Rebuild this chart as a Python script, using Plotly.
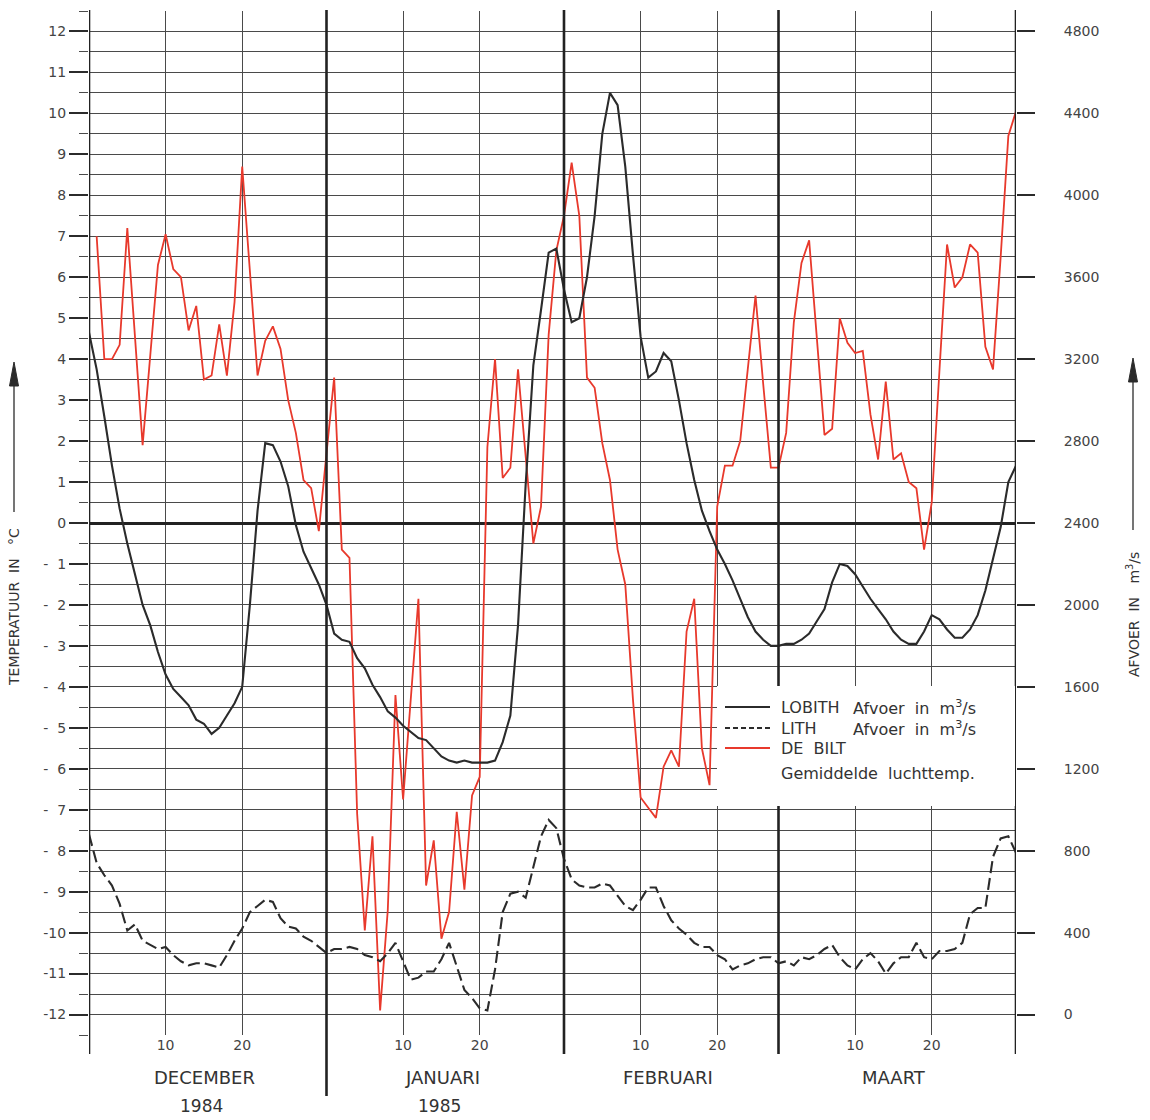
import plotly.graph_objects as go

# ---------------- data ----------------
month_names = ["DECEMBER", "JANUARI", "FEBRUARI", "MAART"]
month_years = ["1984", "1985", "", ""]
month_days = [31, 31, 28, 31]
day_labels = [10, 20]

# LOBITH discharge (m3/s), one value per day boundary: 30 Nov .. 31 Mar (122 values)
lobith_q = [
    3330, 3150, 2920, 2680, 2470, 2300, 2150, 2000, 1900, 1770,
    1660, 1590, 1550, 1510, 1440, 1420, 1370, 1400, 1460, 1520,
    1600, 2000, 2460, 2790, 2780, 2700, 2580, 2390, 2260, 2180,
    2100, 2000, 1860, 1830, 1820, 1740, 1690, 1610, 1550, 1480,
    1450, 1410, 1380, 1350, 1340, 1300, 1260, 1240, 1230, 1240,
    1230, 1230, 1230, 1240, 1330, 1460, 1900, 2590, 3170, 3440,
    3720, 3740, 3540, 3380, 3400, 3600, 3900, 4300, 4500, 4440,
    4140, 3710, 3310, 3110, 3140, 3230, 3190, 3000, 2790, 2610,
    2460, 2360, 2270, 2200, 2120, 2030, 1940, 1870, 1830, 1800,
    1800, 1810, 1810, 1830, 1860, 1920, 1980, 2110, 2200, 2190,
    2150, 2090, 2030, 1980, 1930, 1870, 1830, 1810, 1810, 1870,
    1950, 1930, 1880, 1840, 1840, 1880, 1950, 2070, 2220, 2380,
    2600, 2680,
]

# LITH discharge (m3/s), 30 Nov .. 31 Mar (122 values)
lith_q = [
    880, 740, 680, 630, 540, 410, 440, 360, 340, 320,
    330, 290, 260, 240, 250, 250, 240, 230, 290, 360,
    420, 500, 530, 560, 550, 470, 430, 420, 380, 360,
    330, 300, 320, 320, 330, 320, 290, 280, 260, 300,
    350, 260, 170, 180, 210, 210, 270, 350, 230, 120,
    80, 30, 20, 220, 500, 590, 600, 570, 720, 870,
    950, 910, 760, 660, 630, 620, 620, 640, 630, 580,
    530, 510, 560, 620, 620, 530, 460, 420, 390, 350,
    330, 330, 290, 270, 220, 240, 250, 270, 280, 280,
    250, 260, 240, 280, 270, 290, 320, 340, 280, 240,
    220, 270, 300, 260, 200, 250, 280, 280, 350, 280,
    270, 310, 310, 320, 350, 490, 520, 520, 770, 860,
    870, 790,
]

# DE BILT mean air temperature (deg C), 1 Dec .. 31 Mar (121 values)
debilt_dec = [7.0, 4.0, 4.0, 4.35, 7.2, 4.5, 1.9, 4.1, 6.3, 7.05,
              6.2, 6.0, 4.7, 5.3, 3.5, 3.6, 4.85, 3.6, 5.4, 8.7,
              6.2, 3.6, 4.45, 4.8, 4.25, 3.0, 2.2, 1.05, 0.85, -0.2, 1.7]
debilt_jan = [3.55, -0.65, -0.85, -7.1, -9.95, -7.65, -11.9, -9.45, -4.2, -6.75,
              -4.3, -1.85, -8.85, -7.75, -10.15, -9.5, -7.05, -8.95, -6.65, -6.2,
              1.85, 4.0, 1.1, 1.35, 3.75, 1.6, -0.5, 0.4, 4.6, 6.65, 7.5]
debilt_feb = [8.8, 7.5, 3.55, 3.3, 1.95, 1.05, -0.65, -1.5, -4.3, -6.7,
              -6.95, -7.2, -5.95, -5.55, -5.95, -2.65, -1.85, -5.5, -6.4, 0.4,
              1.4, 1.4, 2.0, 3.8, 5.55, 3.4, 1.35, 1.35]
debilt_mar = [2.2, 4.9, 6.35, 6.9, 4.5, 2.15, 2.3, 5.0, 4.4, 4.15,
              4.2, 2.65, 1.55, 3.45, 1.55, 1.7, 1.0, 0.85, -0.65, 0.5,
              3.7, 6.8, 5.75, 6.0, 6.8, 6.6, 4.3, 3.75, 6.5, 9.45, 10.05]

temp_ticks = list(range(-12, 13))
temp_ticktext = [("-\u2007" + str(-v)) if -10 < v < 0 else str(v) for v in temp_ticks]
q_ticks = list(range(0, 4801, 400))

# ---------------- derived ----------------
debilt_t = debilt_dec + debilt_jan + debilt_feb + debilt_mar
month_edges = [0]
for n in month_days:
    month_edges.append(month_edges[-1] + n)
total_days = month_edges[-1]
x_q = list(range(0, total_days + 1))
x_t = list(range(1, total_days + 1))

day_tickvals, day_ticktext = [], []
for start in month_edges[:-1]:
    for d in day_labels:
        day_tickvals.append(start + d)
        day_ticktext.append(str(d))

W, H = 1150, 1120
ML, MR, MT, MB = 89, 134, 11, 85
PW, PH = W - ML - MR, H - MT - MB


def px(xp):
    return (xp - ML) / PW


def py(yp):
    return (H - MB - yp) / PH


FONT = "DejaVu Sans"
INK = "#2b2b2b"
GRID = "#4a4a4a"
RED = "#e8392c"

fig = go.Figure()
fig.add_trace(go.Scatter(x=x_t, y=debilt_t, mode="lines", yaxis="y",
                         line=dict(color=RED, width=1.8), name="DE BILT"))
fig.add_trace(go.Scatter(x=x_q, y=lobith_q, mode="lines", yaxis="y2",
                         line=dict(color=INK, width=2.1), name="LOBITH"))
fig.add_trace(go.Scatter(x=x_q, y=lith_q, mode="lines", yaxis="y2",
                         line=dict(color=INK, width=2.1, dash="12px,5px"), name="LITH"))

minor_vals = [v + 0.5 for v in range(-13, 13)]

fig.update_layout(
    width=W, height=H,
    margin=dict(l=ML, r=MR, t=MT, b=MB),
    paper_bgcolor="white", plot_bgcolor="white",
    showlegend=False,
    font=dict(family=FONT, color="#333", size=14),
    xaxis=dict(range=[0, total_days], tickmode="array", tickvals=day_tickvals,
               ticktext=day_ticktext, ticks="", showgrid=True, gridcolor=GRID,
               gridwidth=1.2, zeroline=False, showline=False,
               tickfont=dict(family=FONT, size=14, color="#444")),
    yaxis=dict(range=[-12.5, 12.5], tickmode="array", tickvals=temp_ticks,
               ticktext=temp_ticktext, ticks="outside", ticklen=19, tickwidth=1.5,
               tickcolor=INK, showgrid=True, gridcolor=GRID, gridwidth=1.3,
               zeroline=True, zerolinecolor="#222", zerolinewidth=2.5,
               showline=False, tickfont=dict(family=FONT, size=14, color="#444"),
               minor=dict(tickmode="array", tickvals=minor_vals, ticks="outside",
                          ticklen=9, tickwidth=1.2, tickcolor=GRID, showgrid=True,
                          gridcolor=GRID, gridwidth=1.1)),
    yaxis2=dict(range=[-100, 4900], overlaying="y", side="right", tickmode="array",
                tickvals=q_ticks, ticks="outside", ticklen=18, tickwidth=1.5,
                tickcolor=INK, showgrid=False, zeroline=False, showline=False,
                ticklabelstandoff=26, tickfont=dict(family=FONT, size=14, color="#444")),
)

shapes = []
# month boundary / frame lines
for i, xe in enumerate(month_edges):
    ybot = 1096 if i == 1 else 1054
    shapes.append(dict(type="line", xref="x", yref="paper", x0=xe, x1=xe,
                       y0=py(ybot), y1=py(10), line=dict(color="#222", width=2.6)))
# legend box
shapes.append(dict(type="rect", xref="paper", yref="paper", x0=px(717), x1=px(1015),
                   y0=py(806), y1=py(686), fillcolor="white", line=dict(width=0),
                   layer="above"))
shapes.append(dict(type="line", xref="paper", yref="paper", x0=px(725), x1=px(770),
                   y0=py(707), y1=py(707), line=dict(color=INK, width=1.8), layer="above"))
shapes.append(dict(type="line", xref="paper", yref="paper", x0=px(725), x1=px(770),
                   y0=py(728), y1=py(728), line=dict(color=INK, width=1.8, dash="5px,3px"),
                   layer="above"))
shapes.append(dict(type="line", xref="paper", yref="paper", x0=px(725), x1=px(770),
                   y0=py(748), y1=py(748), line=dict(color=RED, width=1.8), layer="above"))
# axis-title arrows
for xa, ytip, ybase in [(14, 362, 512), (1133, 358, 530)]:
    shapes.append(dict(type="line", xref="paper", yref="paper", x0=px(xa), x1=px(xa),
                       y0=py(ybase), y1=py(ytip + 18), line=dict(color=INK, width=1.3)))
    shapes.append(dict(type="path", xref="paper", yref="paper",
                       path=f"M {px(xa)} {py(ytip)} L {px(xa - 4.5)} {py(ytip + 24)} "
                            f"L {px(xa + 4.5)} {py(ytip + 24)} Z",
                       fillcolor=INK, line=dict(color=INK, width=1)))
fig.update_layout(shapes=shapes)

ann = []


def text(t, xp, yp, size=14, xanchor="center", angle=0, color="#333"):
    ann.append(dict(text=t, x=px(xp), y=py(yp), xref="paper", yref="paper",
                    showarrow=False, xanchor=xanchor, yanchor="middle",
                    textangle=angle, font=dict(family=FONT, size=size, color=color)))


# legend text
text("LOBITH", 779, 707, 16, "left")
text("Afvoer  in  m<sup>3</sup>/s", 851, 707, 16, "left")
text("LITH", 779, 728, 16, "left")
text("Afvoer  in  m<sup>3</sup>/s", 851, 728, 16, "left")
text("DE  BILT", 779, 748, 16, "left")
text("Gemiddelde  luchttemp.", 779, 773, 16, "left")

# month labels
for i, name in enumerate(month_names):
    a, b = month_edges[i], month_edges[i + 1]
    cx = ML + (a + b) / 2 / total_days * PW
    text(name, cx - 3, 1077, 18)
    if month_years[i]:
        text(month_years[i], cx - 6, 1106, 17)

# axis titles
text("TEMPERATUUR  IN   °C", 14, 607, 14, "center", -90)
text("AFVOER  IN   m<sup>3</sup>/s", 1133, 615, 14, "center", -90)

fig.update_layout(annotations=ann)
fig.write_html("out.html", config={"displayModeBar": False},
               post_script="document.body.style.margin='0';document.body.style.padding='0';")
